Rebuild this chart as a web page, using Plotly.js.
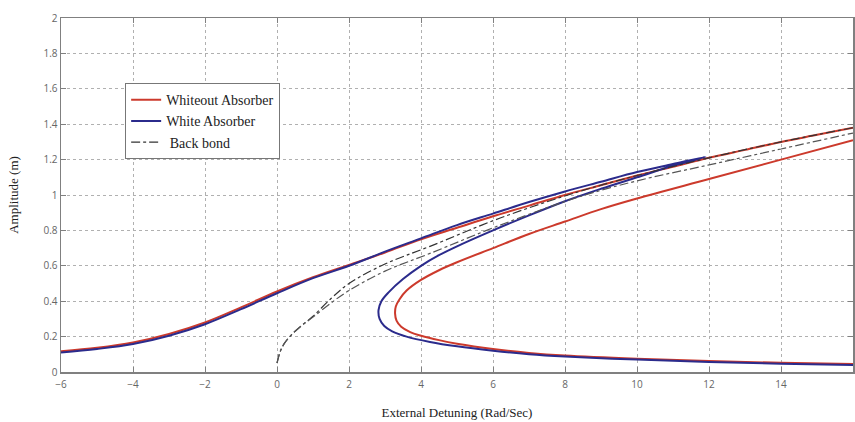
<!DOCTYPE html>
<html><head><meta charset="utf-8">
<script src="https://cdn.plot.ly/plotly-3.0.1.min.js"></script>
<style>html,body{margin:0;padding:0;background:#fff}</style>
</head><body><div id="chart" style="width:855px;height:422px"></div>
<script>
// Whiteout Absorber (red): upper branch, then middle (unstable) + lower branch
const redUpperX = [-6,-5,-4,-3,-2,-1,0,1,2,3,4,5,6,7,8,9,10,11,12,13,14,15,16];
const redUpperY = [0.117,0.137,0.167,0.215,0.28,0.365,0.455,0.535,0.605,0.675,0.75,0.815,0.88,0.94,1.00,1.055,1.11,1.16,1.21,1.255,1.30,1.34,1.38];
const redLowerX = [16,14,12,10,9,8,7,6,5,4.5,4,3.6,3.4,3.3,3.28,3.32,3.45,3.7,4,4.5,5,6,7,8,10,12,14,16];
const redLowerY = [1.31,1.20,1.09,0.98,0.92,0.85,0.78,0.70,0.62,0.575,0.52,0.46,0.41,0.37,0.33,0.29,0.255,0.225,0.205,0.18,0.16,0.13,0.108,0.093,0.075,0.062,0.052,0.045];
// White Absorber (blue): one continuous curve
const blueX = [-6,-5,-4,-3,-2,-1,0,1,2,3,4,5,6,7,8,9,10,11,11.9,11,10,9,8,7,6,5,4.5,4,3.5,3.1,2.9,2.82,2.85,2.98,3.2,3.6,4.25,5,6,7,8,10,12,14,16];
const blueY = [0.11,0.13,0.158,0.205,0.27,0.355,0.445,0.53,0.60,0.68,0.755,0.83,0.895,0.96,1.02,1.075,1.13,1.175,1.215,1.165,1.10,1.035,0.965,0.885,0.80,0.71,0.66,0.60,0.525,0.45,0.40,0.35,0.30,0.26,0.23,0.20,0.17,0.145,0.12,0.10,0.087,0.07,0.057,0.047,0.04];
// Back bond (two dash-dot backbone curves)
const bb1X = [0,0.08,0.2,0.4,0.7,1,1.5,2,3,4.25,6.2,8.4,10,12,14,16];
const bb1Y = [0.05,0.11,0.16,0.21,0.265,0.315,0.415,0.50,0.61,0.71,0.87,1.02,1.11,1.21,1.30,1.38];
const bb2X = [0,0.08,0.2,0.4,0.7,1,1.5,2,3,4.25,6.2,8.4,10,12,14,16];
const bb2Y = [0.05,0.11,0.16,0.21,0.265,0.31,0.39,0.46,0.57,0.67,0.83,0.99,1.08,1.17,1.26,1.35];

const red = '#cc3a2c', blue = '#2b2b8c', blk = '#333333';
const traces = [
  {x: redUpperX.concat([null]).concat(redLowerX), y: redUpperY.concat([null]).concat(redLowerY),
   mode:'lines', name:'Whiteout Absorber', line:{color:red, width:2, shape:'spline', smoothing:1}, connectgaps:false},
  {x: blueX, y: blueY, mode:'lines', name:'White Absorber', line:{color:blue, width:2, shape:'spline', smoothing:1}},
  {x: bb1X, y: bb1Y, mode:'lines', name:' Back bond', line:{color:blk, width:1.2, dash:'dashdot', shape:'spline', smoothing:1}},
  {x: bb2X, y: bb2Y, mode:'lines', name:' Back bond', showlegend:false, line:{color:'#555', width:1.2, dash:'dashdot', shape:'spline', smoothing:1}}
];
const axisCommon = {
  showline:true, mirror:'ticks', linecolor:'#808080', linewidth:1.5,
  ticks:'inside', ticklen:5, tickcolor:'#808080',
  showgrid:true, gridcolor:'#b0b0b0', griddash:'dot', gridwidth:1,
  zeroline:false, tickfont:{family:'Open Sans, Arial, sans-serif', size:10, color:'#666'}
};
const layout = {
  width:855, height:422,
  margin:{l:61, r:2, t:18, b:50},
  paper_bgcolor:'#fff', plot_bgcolor:'#fff',
  xaxis: Object.assign({}, axisCommon, {range:[-6,16], tickvals:[-6,-4,-2,0,2,4,6,8,10,12,14,16],
    ticklabelstandoff:2,
    title:{text:'External Detuning (Rad/Sec)', font:{family:'Liberation Serif, Times New Roman, serif', size:13, color:'#222'}, standoff:18}}),
  yaxis: Object.assign({}, axisCommon, {range:[0,2], tickvals:[0,0.2,0.4,0.6,0.8,1,1.2,1.4,1.6,1.8,2],
    ticktext:['0','0.2','0.4','0.6','0.8','1','1.2','1.4','1.6','1.8','2'],
    title:{text:'Amplitude (m)', font:{family:'Liberation Serif, Times New Roman, serif', size:13, color:'#222'}, standoff:22}}),
  legend:{x:0.081, y:0.816, xanchor:'left', yanchor:'top', bgcolor:'#fff', bordercolor:'#777', borderwidth:1,
    font:{family:'Liberation Serif, Times New Roman, serif', size:14, color:'#222'}, tracegroupgap:0},
  showlegend:true
};
Plotly.newPlot('chart', traces, layout, {displayModeBar:false, staticPlot:true});
</script></body></html>
